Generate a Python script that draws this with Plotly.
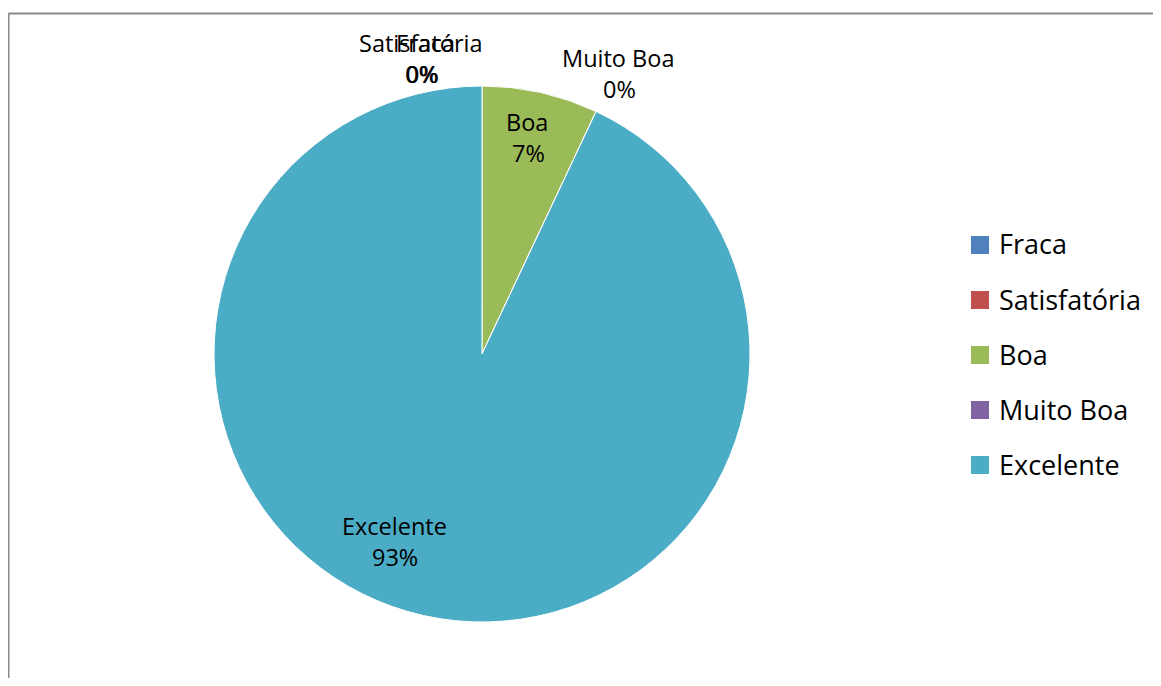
import plotly.graph_objects as go

categories = ["Fraca", "Satisfatória", "Boa", "Muito Boa", "Excelente"]
values = [0, 0, 7, 0, 93]
pct_labels = ["0%", "0%", "7%", "0%", "93%"]
colors = ["#4F81BD", "#C0504D", "#9BBB59", "#8064A2", "#4BACC6"]

# page offset of the plot div (default body margin) and figure size
OFF = 8
W, H = 1161 - 2 * OFF, 686 - 2 * OFF
FONT = "Open Sans, Calibri, Carlito, sans-serif"

# pie geometry (page pixels)
cx, cy, r = 482, 354, 268


def px(x, y):
    """page pixel -> paper coords"""
    return (x - OFF) / W, 1 - (y - OFF) / H


fig = go.Figure()
fig.add_trace(go.Pie(
    labels=categories,
    values=values,
    sort=False,
    direction="clockwise",
    rotation=0,
    marker=dict(colors=colors, line=dict(color="white", width=1)),
    textinfo="none",
    hoverinfo="label+percent",
    showlegend=False,
    domain=dict(x=[px(cx - r, 0)[0], px(cx + r, 0)[0]],
                y=[px(0, cy + r)[1], px(0, cy - r)[1]]),
))

annotations = []
# data label positions (page pixels): name-line centre, percent-line centre
label_pos = {
    "Fraca": ((425, 43), (422, 74)),
    "Satisfatória": ((421, 43), (421, 74)),
    "Boa": ((527, 122), (528, 153)),
    "Muito Boa": ((618, 58), (619, 89)),
    "Excelente": ((394, 526), (395, 557)),
}
for cat, pct in zip(categories, pct_labels):
    for (lx, ly), txt in zip(label_pos[cat], [cat, pct]):
        ax, ay = px(lx, ly)
        annotations.append(dict(
            x=ax, y=ay, xref="paper", yref="paper", text=txt,
            showarrow=False, xanchor="center", yanchor="middle",
            font=dict(family=FONT, size=23.5, color="#000000"),
        ))

shapes = []
# manual legend
leg_x, leg_y0, leg_dy, sq = 971, 245, 55, 18
for i, (cat, col) in enumerate(zip(categories, colors)):
    yc = leg_y0 + i * leg_dy
    x0, y0 = px(leg_x, yc - sq / 2)
    x1, y1 = px(leg_x + sq, yc + sq / 2)
    shapes.append(dict(type="rect", xref="paper", yref="paper",
                       x0=x0, x1=x1, y0=y1, y1=y0,
                       fillcolor=col, line=dict(width=0)))
    tx, ty = px(leg_x + 26, yc - 1)
    annotations.append(dict(
        x=tx, y=ty, xref="paper", yref="paper", text=cat,
        showarrow=False, xanchor="left", yanchor="middle",
        font=dict(family=FONT, size=27, color="#000000"),
    ))

# chart-area border (only top and left edges are visible)
bx0, by0 = px(OFF + 0.5, 13.5)
border = dict(color="#8A8A8A", width=2)
shapes.append(dict(type="line", xref="paper", yref="paper",
                   x0=bx0, x1=1, y0=by0, y1=by0, line=border))
shapes.append(dict(type="line", xref="paper", yref="paper",
                   x0=bx0, x1=bx0, y0=0, y1=by0, line=border))

fig.update_layout(
    width=W, height=H,
    margin=dict(l=0, r=0, t=0, b=0),
    paper_bgcolor="white",
    plot_bgcolor="white",
    annotations=annotations,
    shapes=shapes,
    font=dict(family=FONT),
)

fig.write_html("out.html")
